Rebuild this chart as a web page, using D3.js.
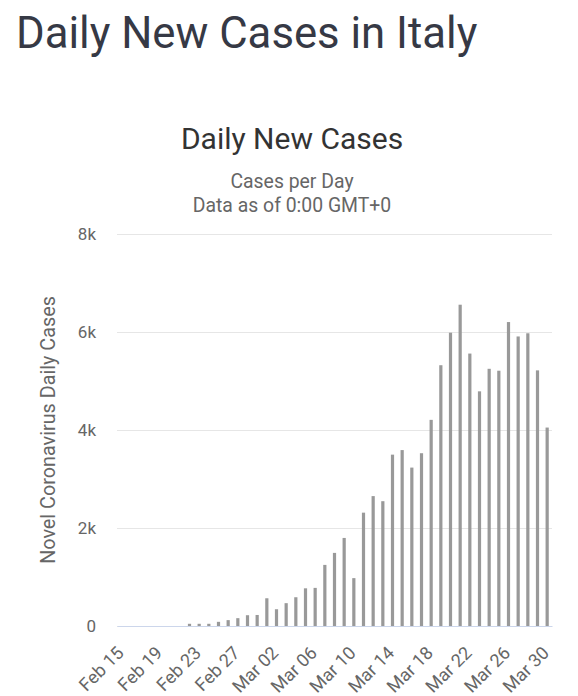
<!DOCTYPE html>
<html>
<head>
<meta charset="utf-8">
<script src="https://cdn.jsdelivr.net/npm/d3@7/dist/d3.min.js"></script>
<style>
  html, body { margin: 0; padding: 0; background: #fff; }
  svg { display: block; font-family: Roboto, "Noto Sans", sans-serif; }
</style>
</head>
<body>
<svg id="chart" width="578" height="696"></svg>
<script>
const dates = ["Feb 15","Feb 16","Feb 17","Feb 18","Feb 19","Feb 20","Feb 21","Feb 22","Feb 23","Feb 24","Feb 25","Feb 26","Feb 27","Feb 28","Feb 29",
  "Mar 01","Mar 02","Mar 03","Mar 04","Mar 05","Mar 06","Mar 07","Mar 08","Mar 09","Mar 10","Mar 11","Mar 12","Mar 13","Mar 14","Mar 15",
  "Mar 16","Mar 17","Mar 18","Mar 19","Mar 20","Mar 21","Mar 22","Mar 23","Mar 24","Mar 25","Mar 26","Mar 27","Mar 28","Mar 29","Mar 30"];
const dailyCases = [0,0,0,0,0,0,0,45,45,45,85,120,160,220,225,
  566,342,466,587,769,778,1247,1492,1797,977,2313,2651,2547,3497,3590,
  3233,3526,4207,5322,5986,6557,5560,4789,5249,5210,6203,5909,5974,5217,4050];
const xTickLabels = ["Feb 15","Feb 19","Feb 23","Feb 27","Mar 02","Mar 06","Mar 10","Mar 14","Mar 18","Mar 22","Mar 26","Mar 30"];
const yTicks = [0, 2000, 4000, 6000, 8000];
const pageTitle = "Daily New Cases in Italy";
const chartTitle = "Daily New Cases";
const subtitles = ["Cases per Day", "Data as of 0:00 GMT+0"];
const yAxisTitle = "Novel Coronavirus Daily Cases";

const svg = d3.select("#chart");
const margin = {left: 117, right: 552, top: 234, bottom: 626};

const x = d3.scaleBand().domain(dates).range([margin.left, margin.right]).paddingInner(0).paddingOuter(0);
const y = d3.scaleLinear().domain([0, 8000]).range([margin.bottom, margin.top]);

// page heading
svg.append("text").attr("x", 16).attr("y", 48)
  .attr("font-size", 43.7).attr("fill", "#363945").text(pageTitle);

// chart title & subtitles
svg.append("text").attr("x", 292).attr("y", 149).attr("text-anchor", "middle")
  .attr("font-size", 30).attr("fill", "#333333").text(chartTitle);
svg.selectAll(".sub").data(subtitles).enter().append("text")
  .attr("x", 292).attr("y", (d, i) => 188 + i * 24).attr("text-anchor", "middle")
  .attr("font-size", 19.4).attr("fill", "#666666").text(d => d);

// gridlines + y labels
const yAxis = d3.axisLeft(y).tickValues(yTicks)
  .tickSize(-(margin.right - margin.left))
  .tickFormat(d => d === 0 ? "0" : (d / 1000) + "k");
const gy = svg.append("g").attr("transform", `translate(${margin.left},0)`).call(yAxis);
gy.select(".domain").remove();
gy.selectAll(".tick line").attr("stroke", "#e6e6e6").attr("stroke-width", 1);
gy.selectAll(".tick text").attr("x", -21).attr("dy", "0.32em")
  .attr("font-size", 17).attr("fill", "#666666").attr("font-family", "Roboto, sans-serif");

// y axis title
svg.append("text").attr("transform", `translate(55,430) rotate(-90)`)
  .attr("text-anchor", "middle").attr("font-size", 19.8).attr("fill", "#666666").text(yAxisTitle);

// bars
const barW = 3.2;
svg.append("g").selectAll("rect").data(dates).enter().append("rect")
  .attr("x", d => x(d) + x.bandwidth() / 2 - barW / 2)
  .attr("width", barW)
  .attr("y", (d, i) => y(dailyCases[i]))
  .attr("height", (d, i) => y(0) - y(dailyCases[i]))
  .attr("fill", "#999999");

// x axis baseline and labels
const xAxis = d3.axisBottom(x).tickValues(xTickLabels).tickSize(0).tickPadding(0);
const gx = svg.append("g").attr("transform", `translate(0,${margin.bottom})`).call(xAxis);
gx.select(".domain").attr("stroke", "#ccd6eb").attr("stroke-width", 1);
gx.selectAll(".tick text")
  .attr("font-size", 18).attr("fill", "#666666").attr("font-family", "Roboto, sans-serif")
  .attr("text-anchor", "end").attr("dy", 0).attr("y", 0)
  .attr("transform", "translate(3,28) rotate(-45)");
</script>
</body>
</html>
